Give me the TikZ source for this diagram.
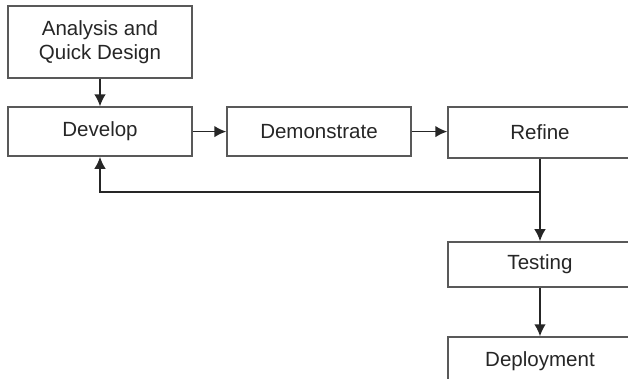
\documentclass[tikz,border=0pt]{standalone}
\usepackage{fontspec}
\setmainfont{Liberation Sans}
\usetikzlibrary{arrows.meta}
\begin{document}
\begin{tikzpicture}[
  stage/.style={draw=black!65, line width=1pt, fill=white, minimum width=4.6cm,
    text=black!85, font=\fontsize{14.6}{17}\selectfont, align=center, inner sep=0pt},
  flow/.style={-{Latex[length=3mm,width=2.9mm]}, line width=1.2pt, black!85}
]
\useasboundingbox (0,0) rectangle (15.7,-9.475);
\clip (0,0) rectangle (15.7,-9.475);

%%%%%%%%%%%%%-------------boxes
\node[stage, minimum height=1.8cm] (analysis) at (2.5,-1.05) {Analysis and\\Quick Design};
\node[stage, minimum height=1.225cm] (develop) at (2.5,-3.29) {Develop};
\node[stage, minimum height=1.225cm] (demo) at (7.975,-3.29) {Demonstrate};
\node[stage, minimum height=1.275cm] (refine) at (13.5,-3.31) {Refine};
\node[stage, minimum height=1.125cm] (testing) at (13.5,-6.61) {Testing};
\node[stage, minimum height=1.2cm] (deploy) at (13.5,-9.025) {Deployment};

\coordinate (split) at (13.5,-4.8);

%%%%%%%%%%%%%-------------arrows
\draw[flow] (analysis.south)--(develop.north);
\draw[flow] (develop.east)--(demo.west);
\draw[flow] (demo.east)--(demo.east -| refine.west);
\draw[flow] (refine.south)--(testing.north);
\draw[flow] (split)-|(develop.south);
\draw[flow] (testing.south)--(deploy.north);

\end{tikzpicture}
\end{document}
